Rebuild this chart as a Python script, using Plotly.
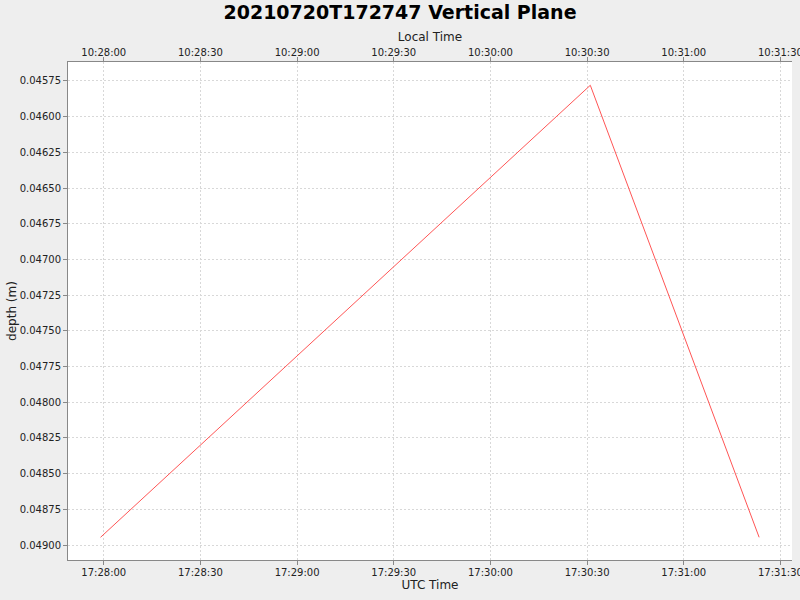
import plotly.graph_objects as go
import pandas as pd

# samples of the vertical plane (UTC)
utc_time = ["2021-07-20 17:27:59.0", "2021-07-20 17:30:31.0", "2021-07-20 17:31:23.4"]
depth = [0.048946, 0.04578, 0.048946]

x_range = pd.to_datetime(["2021-07-20 17:27:48.9", "2021-07-20 17:31:33.6"], format="ISO8601")
local_range = x_range - pd.Timedelta(hours=7)  # local time is UTC-7
y_range = [0.049105, 0.045617]  # depth grows downwards

fmt = "%Y-%m-%d %H:%M:%S.%f"
font = "DejaVu Sans"
axis_style = dict(
    showline=True, linecolor="#888888", linewidth=1, mirror=False,
    ticks="outside", ticklen=4, tickcolor="#888888",
    showgrid=True, gridcolor="#d8d8d8", griddash="2px,2px", gridwidth=1,
    zeroline=False, automargin=False, ticklabeloverflow="allow",
    tickfont=dict(family=font, size=10, color="#222222"),
)

fig = go.Figure()
fig.add_trace(go.Scatter(x=pd.to_datetime(utc_time, format="ISO8601"), y=depth, mode="lines",
                         line=dict(color="#ff5555", width=1), showlegend=False))

fig.update_layout(
    width=800, height=600,
    paper_bgcolor="#eeeeee", plot_bgcolor="white",
    margin=dict(l=68, r=8, t=62, b=40),
    title=dict(text="<b>20210720T172747 Vertical Plane</b>", x=0.5, xanchor="center",
               y=0.991, yanchor="top", yref="container",
               font=dict(family=font, size=19, color="black")),
    xaxis=dict(axis_style, range=list(x_range.strftime(fmt)), type="date", dtick=30000,
               tickformat="%H:%M:%S", ticklabelstandoff=-1,
               title=dict(text="UTC Time", font=dict(family=font, size=12, color="#222222"),
                          standoff=2)),
    xaxis2=dict(axis_style, range=list(local_range.strftime(fmt)), type="date", dtick=30000,
                tickformat="%H:%M:%S", overlaying="x", side="top", showgrid=False,
                ticklabelstandoff=-3,
                title=dict(text="Local Time", font=dict(family=font, size=12, color="#222222"),
                           standoff=2)),
    yaxis=dict(axis_style, range=y_range, dtick=0.00025, tickformat=".5f",
               title=dict(text="depth (m)", font=dict(family=font, size=12, color="#222222"),
                          standoff=0)),
)
# empty trace so the top axis is drawn
fig.add_trace(go.Scatter(x=[], y=[], xaxis="x2", showlegend=False))

# drop the page margin so the 800x600 figure fills the window
fig.write_html("out.html", config={"displayModeBar": False},
               post_script="document.body.style.margin='0';")
